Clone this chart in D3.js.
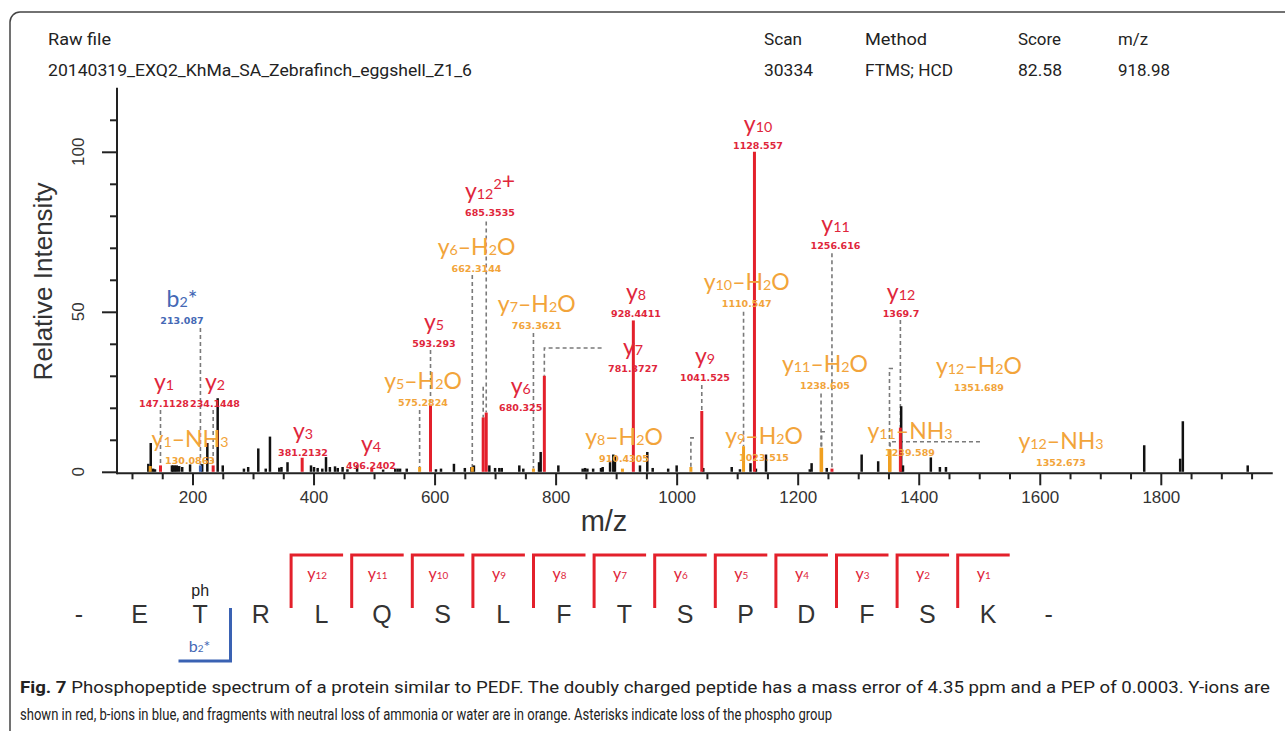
<!DOCTYPE html>
<html><head><meta charset="utf-8">
<script src="https://cdn.jsdelivr.net/npm/d3@7"></script>
<style>body{margin:0;background:#fff}svg{display:block}</style>
</head><body>
<svg id="c" width="1285" height="731"></svg>
<script>
// ---------------- data ----------------
const headerLabels = ["Raw file", "Scan", "Method", "Score", "m/z"];
const headerValues = ["20140319_EXQ2_KhMa_SA_Zebrafinch_eggshell_Z1_6", "30334", "FTMS; HCD", "82.58", "918.98"];

// unannotated (black) peaks
const peakMz  = [127,131,135,138,166,168,171,174,178,183,196,216,224.5,241.6,250,285,292,308.7,321,328,343.4,347,357,
  395.8,400.8,406.8,414.5,420.6,427,435.5,440,448,456,472,515,535,539,543,554,602.3,610.6,632,650,661,665,690.5,700,707,711,
  740,746.6,772.6,775.3,804.5,844.7,848.6,852.5,862,875,877.8,890,895.3,898,939.4,951.5,960.4,986,1000,1044,1091,1104.6,
  1122,1131,1147.6,1220,1223,1248,1305.7,1333,1371,1374,1420,1435,1445,1772.6,1832,1836.4,1943.6];
const peakInt = [2.5,9,1,0.8,2,2,2,2,1.8,1.5,2.3,2.4,9,23,2,1,1.5,7.3,1,11,1.3,1.5,3,
  2,1.5,1.2,1,4.6,1.5,1.7,1.2,1.5,0.8,2,0.7,1,1,1,1,0.8,1,2.5,1.2,1.5,2,2,1.2,1.2,1.2,
  2,1,3,6.2,2,1,1.2,1,1,1.2,1.5,3,5.4,4.8,2,6.2,1.2,1,2,1.2,1.5,0.8,
  2.7,1,5.4,0.8,2.7,1.2,5.4,3.3,20.5,2,4.5,1.5,1.5,8.3,4.1,15.8,2];

// annotated fragment ions
const ionNames = ["y1-NH3","y1","b2*","y2","y3","y4","y5-H2O","y5","y6-H2O","y6","y12^2+","y7-H2O","y7","y8-H2O","y8",
  "y9-H2O","y9","y10-H2O","y10","y11-H2O","y11-NH3","y11","y12-H2O","y12-NH3","y12"];
const ionMz = [130.0863,147.1128,213.087,234.1448,381.2132,496.2402,575.2824,593.293,662.3144,680.325,685.3535,763.3621,781.3727,
  910.4305,928.4411,1023.515,1041.525,1110.547,1128.557,1238.605,1239.589,1256.616,1351.689,1352.673,1369.7];
const ionLabels = ["130.0863","147.1128","213.087","234.1448","381.2132","496.2402","575.2824","593.293","662.3144","680.325","685.3535",
  "763.3621","781.3727","910.4305","928.4411","1023.515","1041.525","1110.547","1128.557","1238.605","1239.589","1256.616",
  "1351.689","1352.673","1369.7"];
const ionInt = [1.8,2,2,2,4.4,1,1.5,21,1.5,17,18.5,1,30,1,47.3,1.5,19,8,100,7.5,7.5,1,7,7,13.8];
const ionKind = ["loss","y","b","y","y","y","loss","y","loss","y","y","loss","y","loss","y","loss","y","loss","y","loss","loss","y","loss","loss","y"];

// peptide sequence
const sequence = ["-","E","T","R","L","Q","S","L","F","T","S","P","D","F","S","K","-"];
const yIonNumbers = [12,11,10,9,8,7,6,5,4,3,2,1];

// axis ticks
const xTicks = d3.range(100, 1951, 50);
const xTickLabels = [200,400,600,800,1000,1200,1400,1600,1800];
const yTicks = d3.range(0, 111, 10);
const yTickLabels = [0,50,100];

const captionLine1 = "Phosphopeptide spectrum of a protein similar to PEDF. The doubly charged peptide has a mass error of 4.35 ppm and a PEP of 0.0003. Y-ions are";
const captionLine2 = "shown in red, b-ions in blue, and fragments with neutral loss of ammonia or water are in orange. Asterisks indicate loss of the phospho group";

// ---------------- layout (annotation placement, in data units) ----------------
const labelMz  = [195.9,152.9,182.6,237.2,382.6,495,580.9,599,669.3,742.3,691.6,768.8,927.9,913,932.8,1144.4,1046.9,1115.8,1134.4,1245.1,1385.6,1262.5,1499.6,1635.1,1370.7];
const labelInt = [9.9,27.75,53.7,27.75,12.5,8.4,28.2,46.5,69.8,26.6,87.5,52.1,38.7,10.5,56,11,36,58.9,108.4,33.4,12.5,77.1,32.8,9.4,56];
const leaderTop  = [null,19.3,44.9,19.3,null,null,19.3,38.1,61.5,26.6,78.2,43.4,38.7,null,null,10.6,27.1,50,null,24.5,12.5,68.3,32.3,9.4,47.4];
const leaderFrom = [null,null,null,null,null,null,null,null,null,null,null,null,876,null,null,1028.6,null,null,null,null,1245.1,null,1357.5,1501.2,null];

// ---------------- styles ----------------
const C = {
  y: "#e3202b", yText: "#e0263b",
  loss: "#f0a020", lossText: "#f2a43a",
  b: "#3a62b3", bText: "#4468b5",
  black: "#111", axis: "#222", text: "#333", dash: "#7a7a7a"
};
const peakColor = k => k === "y" ? C.y : k === "b" ? C.b : C.loss;
const textColor = k => k === "y" ? C.yText : k === "b" ? C.bText : C.lossText;

const svg = d3.select("#c");

// frame
svg.append("path").attr("d", "M10,731 V22 A10,10 0 0 1 20,12 H1285")
  .attr("fill", "none").attr("stroke", "#444").attr("stroke-width", 1.5);

// header
const hdrX = [48, 764, 865, 1018, 1118];
const hdrW1 = [63, 38, 62, 43, 30];
const hdrW2 = [424, 49, 88, 44, 52];
const hfont = "Roboto, 'Open Sans', sans-serif";
headerLabels.forEach((t, i) => {
  svg.append("text").attr("x", hdrX[i]).attr("y", 45).text(t)
    .attr("font-family", hfont).attr("font-size", 16).attr("fill", "#222")
    .attr("textLength", hdrW1[i]).attr("lengthAdjust", "spacingAndGlyphs");
  svg.append("text").attr("x", hdrX[i]).attr("y", 76).text(headerValues[i])
    .attr("font-family", hfont).attr("font-size", 16).attr("fill", "#222")
    .attr("textLength", hdrW2[i]).attr("lengthAdjust", "spacingAndGlyphs");
});

// scales
const x = d3.scaleLinear().domain([200, 1800]).range([192.5, 1160.8]);
const y = d3.scaleLinear().domain([0, 120]).range([471.8, 87.8]);

// axes
const axisFont = "'Liberation Sans', Arial, sans-serif";
const gx = svg.append("g").attr("transform", `translate(0,${y(0) + 1.5})`)
  .call(d3.axisBottom(x).tickValues(xTicks).tickSize(6).tickPadding(4)
    .tickFormat(d => xTickLabels.includes(d) ? d : ""));
gx.select(".domain").remove();
gx.selectAll(".tick line").attr("stroke", C.axis).attr("stroke-width", 2)
  .attr("y2", d => xTickLabels.includes(d) ? 12 : 6);
gx.selectAll(".tick text").attr("font-family", axisFont).attr("font-size", 17).attr("fill", C.text).attr("y", 18);
svg.append("line").attr("x1", x(75)).attr("x2", x(1985)).attr("y1", y(0) + 1.5).attr("y2", y(0) + 1.5)
  .attr("stroke", C.axis).attr("stroke-width", 2);

const gy = svg.append("g").attr("transform", `translate(117,0)`)
  .call(d3.axisLeft(y).tickValues(yTicks).tickSize(7).tickFormat(""));
gy.select(".domain").remove();
gy.selectAll(".tick line").attr("stroke", C.axis).attr("stroke-width", 2)
  .attr("x2", d => yTickLabels.includes(d) ? -15 : -7);
svg.append("line").attr("x1", 117).attr("x2", 117).attr("y1", y(0) + 2.5).attr("y2", y(120))
  .attr("stroke", C.axis).attr("stroke-width", 2);
yTickLabels.forEach(v => {
  svg.append("text").attr("transform", `translate(84,${y(v)}) rotate(-90)`)
    .attr("text-anchor", "middle").attr("font-family", axisFont).attr("font-size", 17)
    .attr("fill", C.text).text(v);
});
svg.append("text").attr("transform", `translate(52,${y(59.5)}) rotate(-90)`)
  .attr("text-anchor", "middle").attr("font-family", axisFont).attr("font-size", 26)
  .attr("fill", C.text).text("Relative Intensity");
svg.append("text").attr("x", x(880)).attr("y", 531).attr("text-anchor", "middle")
  .attr("font-family", axisFont).attr("font-size", 29).attr("fill", C.text).text("m/z");

// leaders
const ions = ionNames.map((n, i) => ({
  name: n, mz: ionMz[i], int: ionInt[i], kind: ionKind[i], lab: ionLabels[i],
  lmz: labelMz[i], lint: labelInt[i], top: leaderTop[i], from: leaderFrom[i]
}));
ions.filter(d => d.top !== null).forEach(d => {
  const pts = [];
  if (d.from !== null) pts.push([x(d.from), y(d.top)]);
  pts.push([x(d.mz), y(d.top)]);
  pts.push([x(d.mz), y(d.int)]);
  svg.append("path").attr("d", d3.line()(pts)).attr("fill", "none")
    .attr("stroke", C.dash).attr("stroke-width", 1.6).attr("stroke-dasharray", "4,3");
});

// black peaks
svg.append("g").selectAll("line").data(peakMz.map((m, i) => [m, peakInt[i]])).join("line")
  .attr("x1", d => x(d[0])).attr("x2", d => x(d[0]))
  .attr("y1", y(0)).attr("y2", d => y(d[1]))
  .attr("stroke", C.black).attr("stroke-width", 2.5);

// colored peaks
svg.append("g").selectAll("line").data(ions).join("line")
  .attr("x1", d => x(d.mz)).attr("x2", d => x(d.mz))
  .attr("y1", y(0)).attr("y2", d => y(d.int))
  .attr("stroke", d => peakColor(d.kind)).attr("stroke-width", 3);

// rich label text: digits small, '^' starts superscript
function rich(textSel, str, size) {
  const parts = str.replace("-", "\u2013").split(/(\^|\d+)/).filter(s => s !== "");
  let sup = false;
  parts.forEach(p => {
    if (p === "^") { sup = true; return; }
    const t = textSel.append("tspan").text(p);
    if (sup) { t.attr("font-size", size * 0.62).attr("dy", -size * 0.42); sup = false; }
    else if (/^\d+$/.test(p)) t.attr("font-size", size * 0.62);
    else t.attr("font-size", size);
  });
}
const labFont = "Lato, 'Open Sans', sans-serif";
ions.forEach(d => {
  const cx = x(d.lmz), cy = y(d.lint);
  const t = svg.append("text").attr("x", cx).attr("y", cy + 7).attr("text-anchor", "middle")
    .attr("font-family", labFont).attr("fill", textColor(d.kind));
  rich(t, d.name, 23);
  svg.append("text").attr("x", cx).attr("y", cy + 24).attr("text-anchor", "middle")
    .attr("font-family", "'DejaVu Sans', sans-serif").attr("font-weight", "bold").attr("font-size", 9.5)
    .attr("fill", textColor(d.kind)).text(d.lab);
});

// ---------------- sequence panel ----------------
const sx = d3.scalePoint().domain(d3.range(sequence.length)).range([79, 1048.6]);
svg.append("g").selectAll("text").data(sequence).join("text")
  .attr("x", (d, i) => sx(i)).attr("y", 623).attr("text-anchor", "middle")
  .attr("font-family", axisFont).attr("font-size", 25).attr("fill", C.text).text(d => d);

yIonNumbers.forEach(k => {
  const i = 15 - k;
  const bx = (sx(i) + sx(i + 1)) / 2;
  svg.append("path").attr("d", `M${bx},608 V555 H${bx + 52}`).attr("fill", "none")
    .attr("stroke", C.y).attr("stroke-width", 3);
  const t = svg.append("text").attr("x", bx + 26).attr("y", 579).attr("text-anchor", "middle")
    .attr("font-family", labFont).attr("fill", C.yText);
  rich(t, "y" + k, 16);
});
// b2* bracket
{
  const bx = (sx(2) + sx(3)) / 2;
  svg.append("path").attr("d", `M${bx},608 V661 H${bx - 52}`).attr("fill", "none")
    .attr("stroke", C.b).attr("stroke-width", 3);
  const t = svg.append("text").attr("x", bx - 31).attr("y", 652).attr("text-anchor", "middle")
    .attr("font-family", labFont).attr("fill", C.bText);
  rich(t, "b2*", 16);
  svg.append("text").attr("x", sx(2)).attr("y", 596).attr("text-anchor", "middle")
    .attr("font-family", axisFont).attr("font-size", 16).attr("fill", "#222").text("ph");
}

// ---------------- caption ----------------
const capFont = "Roboto, 'Open Sans', sans-serif";
const cap1 = svg.append("text").attr("x", 20).attr("y", 693).attr("font-family", capFont)
  .attr("font-size", 17).attr("fill", "#222")
  .attr("textLength", 1250).attr("lengthAdjust", "spacingAndGlyphs");
cap1.append("tspan").attr("font-weight", "bold").text("Fig. 7");
cap1.append("tspan").text(" " + captionLine1);
svg.append("text").attr("x", 20).attr("y", 720).attr("font-family", capFont)
  .attr("font-size", 17).attr("fill", "#222")
  .attr("textLength", 812).attr("lengthAdjust", "spacingAndGlyphs").text(captionLine2);
</script>
</body></html>
